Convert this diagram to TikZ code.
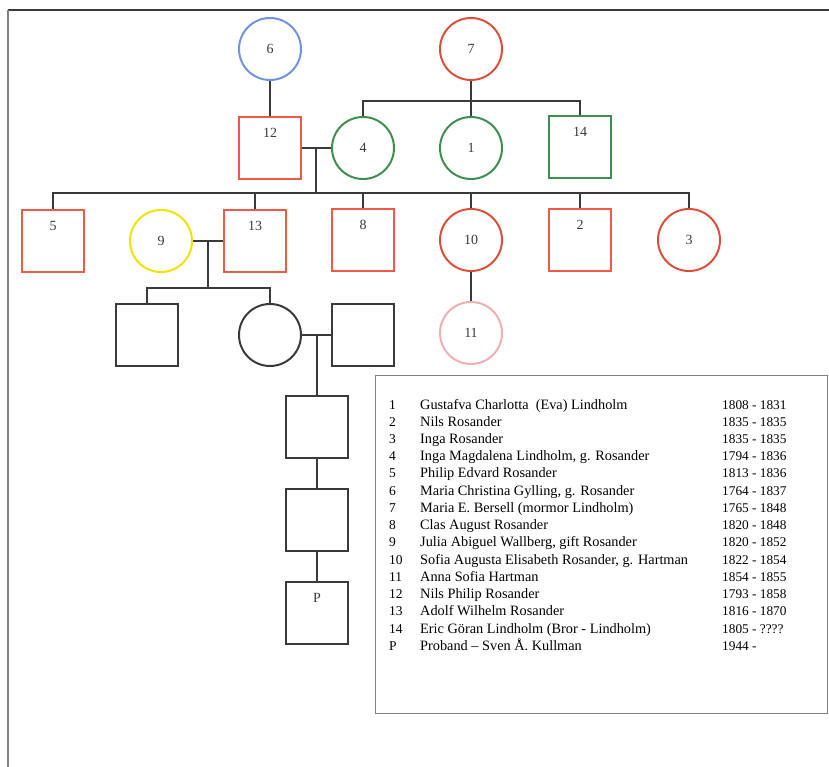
\documentclass[tikz,border=0pt]{standalone}
\usepackage{fontspec}
\setmainfont{Liberation Serif}

\definecolor{redsq}{HTML}{EE5A45}
\definecolor{redci}{HTML}{DB4F3A}
\definecolor{grn}{HTML}{3E8E50}
\definecolor{blu}{HTML}{6E93E0}
\definecolor{yel}{HTML}{F2E200}
\definecolor{pnk}{HTML}{F0AEB5}
\definecolor{blk}{HTML}{3A3A3A}

\begin{document}
\begin{tikzpicture}[x=1pt, y=-1pt,
	fem/.style = {draw, circle, line width=2pt, minimum size=62pt, inner sep=0pt, text=blk, font=\fontsize{14}{16}\selectfont},
	male/.style = {draw, rectangle, line width=2pt, minimum size=62pt, inner sep=0pt},
	lab/.style = {label={[anchor=north, inner sep=0pt, yshift=-12pt, text=blk, font=\fontsize{14}{16}\selectfont]north:#1}},
	link/.style = {draw=blk, line width=1.6pt}]
	\useasboundingbox (0,0) rectangle (829,767);
	%% Frame
	\draw[blk, line width=1.4pt] (829,10) -- (8,10);
	\draw[gray, line width=1.8pt] (8,10) -- (8,767);

	%% Nodes
	\node[fem, draw=blu] (6) at (270,49) {6};
	\node[fem, draw=redci] (7) at (471,49) {7};

	\node[male, draw=redsq, lab=12] (12) at (270,148) {};
	\node[fem, draw=grn] (4) at (363,148) {4};
	\node[fem, draw=grn] (1) at (471,148) {1};
	\node[male, draw=grn, lab=14] (14) at (580,147) {};

	\node[male, draw=redsq, lab=5] (5) at (53,241) {};
	\node[fem, draw=yel] (9) at (161,241) {9};
	\node[male, draw=redsq, lab=13] (13) at (255,241) {};
	\node[male, draw=redsq, lab=8] (8) at (363,240) {};
	\node[fem, draw=redci] (10) at (471,240) {10};
	\node[male, draw=redsq, lab=2] (2) at (580,240) {};
	\node[fem, draw=redci] (3) at (689,240) {3};

	\node[male, draw=blk] (a) at (147,335) {};
	\node[fem, draw=blk] (b) at (270,335) {};
	\node[male, draw=blk] (c) at (363,335) {};
	\node[fem, draw=pnk] (11) at (471,333) {11};

	\node[male, draw=blk] (d) at (317,427) {};
	\node[male, draw=blk] (e) at (317,520) {};
	\node[male, draw=blk, lab=P] (P) at (317,613) {};

	\coordinate (sib7) at (471,101);
	\coordinate (m124) at (316,148);
	\coordinate (sib124) at (316,193);
	\coordinate (m913) at (208,241);
	\coordinate (sib913) at (208,288);
	\coordinate (mbc) at (317,335);

	%% Edges
	\draw[link] (6) -- (12);
	\draw[link] (7) -- (1);
	\draw[link] (4.north) |- (sib7) -| (14.north);
	\draw[link] (12) -- (4);
	\draw[link] (m124) -- (sib124);
	\draw[link] (5.north) |- (sib124) -| (3.north);
	\foreach \c in {13,8,10,2}
		\draw[link] (\c.north) -- (\c.north |- sib124);
	\draw[link] (9) -- (13);
	\draw[link] (m913) -- (sib913);
	\draw[link] (a.north) |- (sib913) -| (b.north);
	\draw[link] (10) -- (11);
	\draw[link] (b) -- (c);
	\draw[link] (mbc) -- (d);
	\draw[link] (d) -- (e);
	\draw[link] (e) -- (P);

	%% Legend
	\node[draw=gray, line width=0.9pt, minimum width=452pt, minimum height=338pt, anchor=north west] (legend) at (375,375) {};
	\foreach \n/\nm/\yr [count=\i] in {
		1/{Gustafva Charlotta~ (Eva) Lindholm}/1808 - 1831,
		2/{Nils Rosander}/1835 - 1835,
		3/{Inga Rosander}/1835 - 1835,
		4/{Inga Magdalena Lindholm, g. Rosander}/1794 - 1836,
		5/{Philip Edvard Rosander}/1813 - 1836,
		6/{Maria Christina Gylling, g. Rosander}/1764 - 1837,
		7/{Maria E. Bersell (mormor Lindholm)}/1765 - 1848,
		8/{Clas August Rosander}/1820 - 1848,
		9/{Julia Abiguel Wallberg, gift Rosander}/1820 - 1852,
		10/{Sofia Augusta Elisabeth Rosander, g. Hartman}/1822 - 1854,
		11/{Anna Sofia Hartman}/1854 - 1855,
		12/{Nils Philip Rosander}/1793 - 1858,
		13/{Adolf Wilhelm Rosander}/1816 - 1870,
		14/{Eric Göran Lindholm (Bror - Lindholm)}/1805 - ????,
		P/{Proband – Sven Å. Kullman}/1944 -}
	{
		\node[anchor=base west, inner sep=0pt, font=\fontsize{13.5}{16}\selectfont] at (389,{409+(\i-1)*17.24}) {\n};
		\node[anchor=base west, inner sep=0pt, font=\fontsize{14.3}{16}\selectfont] at (420,{409+(\i-1)*17.24}) {\nm};
		\node[anchor=base west, inner sep=0pt, font=\fontsize{13.3}{16}\selectfont] at (722,{409+(\i-1)*17.24}) {\yr};
	}
\end{tikzpicture}
\end{document}
